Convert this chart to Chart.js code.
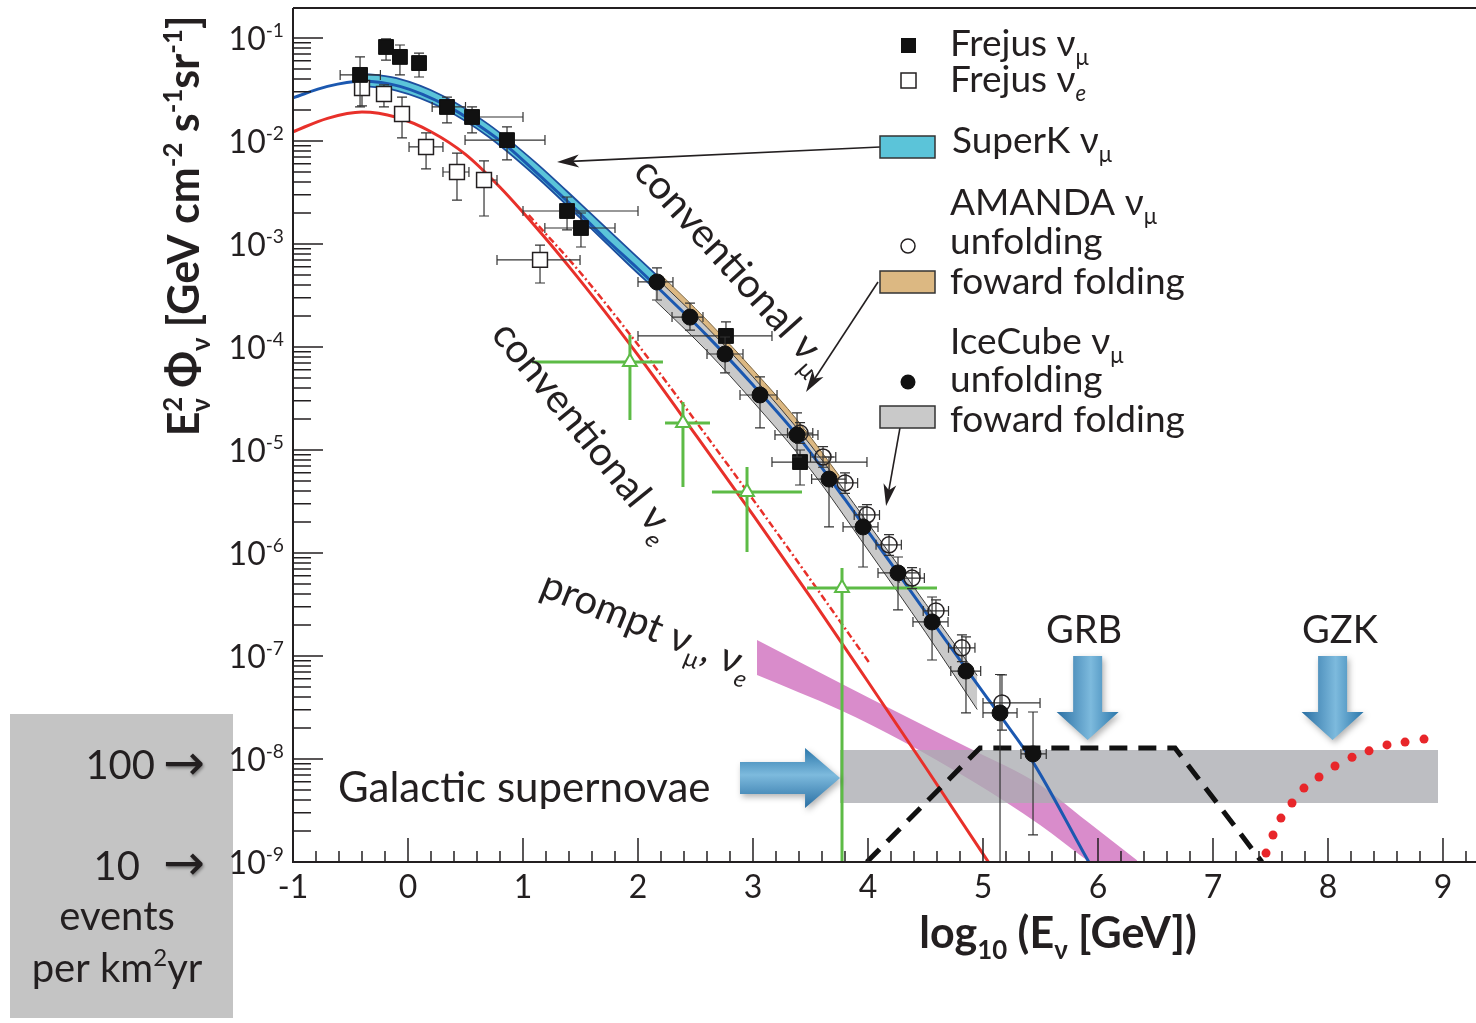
<!DOCTYPE html>
<html>
<head>
<meta charset="utf-8">
<script src="https://cdn.jsdelivr.net/npm/chart.js@4.4.1/dist/chart.umd.min.js"></script>
<style>
  html, body { margin: 0; padding: 0; background: #fff; }
  #wrap { width: 1476px; height: 1023px; }
</style>
</head>
<body>
<div id="wrap"><canvas id="flux" width="1476" height="1023"></canvas></div>
<script>
// axis ticks
const xTicks = [-1, 0, 1, 2, 3, 4, 5, 6, 7, 8, 9];
const yTickExps = [-9, -8, -7, -6, -5, -4, -3, -2, -1];
const minorSteps = [2, 3, 4, 5, 6, 7, 8, 9];

// conventional nu_mu (blue curve), x = log10(E/GeV)
const convMuE = [-1.0, -0.7, -0.4, -0.07, 0.34, 0.6, 0.86, 1.1, 1.4, 1.7, 2.0, 2.3, 2.6, 3.0, 3.4, 3.8, 4.2, 4.6, 5.0, 5.15, 5.44, 5.92, 6.05];
const convMuFlux = [2.63e-2, 3.39e-2, 3.80e-2, 3.39e-2, 2.19e-2, 1.45e-2, 8.91e-3, 5.13e-3, 2.51e-3, 1.17e-3, 5.75e-4, 2.75e-4, 1.29e-4, 4.27e-5, 1.32e-5, 3.31e-6, 7.94e-7, 1.86e-7, 4.47e-8, 2.63e-8, 9.12e-9, 1.0e-9, 5.62e-10];

// conventional nu_e (red curve)
const convEE = [-1.0, -0.7, -0.4, -0.1, 0.2, 0.5, 0.8, 1.1, 1.4, 1.7, 2.0, 2.5, 3.0, 3.5, 4.0, 4.5, 5.0, 5.2];
const convEFlux = [1.23e-2, 1.66e-2, 1.91e-2, 1.70e-2, 1.23e-2, 7.41e-3, 3.55e-3, 1.51e-3, 6.03e-4, 2.29e-4, 8.32e-5, 1.41e-5, 2.34e-6, 3.72e-7, 5.62e-8, 8.32e-9, 1.20e-9, 5.50e-10];

// second nu_e model (red dash-dot)
const convEAltE = [1.05, 1.5, 2.0, 2.5, 3.0, 3.5, 4.02];
const convEAltFlux = [1.91e-3, 5.25e-4, 1.05e-4, 1.91e-5, 3.31e-6, 5.50e-7, 8.32e-8];

// SuperK nu_mu band
const superKE = [-0.45, -0.1, 0.3, 0.7, 1.1, 1.5, 1.9, 2.3, 2.7, 3.0];
const superKLo = [3.47e-2, 3.09e-2, 2.09e-2, 1.10e-2, 4.68e-3, 1.78e-3, 6.61e-4, 2.51e-4, 8.91e-5, 3.89e-5];
const superKHi = [4.57e-2, 4.07e-2, 2.75e-2, 1.45e-2, 6.31e-3, 2.45e-3, 9.33e-4, 3.55e-4, 1.29e-4, 5.62e-5];

// AMANDA forward folding band
const amandaFfE = [2.2, 2.6, 3.0, 3.4, 3.75];
const amandaFfLo = [3.55e-4, 1.29e-4, 4.27e-5, 1.32e-5, 3.98e-6];
const amandaFfHi = [5.01e-4, 1.82e-4, 6.03e-5, 1.86e-5, 5.62e-6];

// IceCube forward folding band
const iceFfE = [2.15, 2.6, 3.0, 3.5, 4.0, 4.5, 4.95];
const iceFfLo = [2.82e-4, 9.12e-5, 2.95e-5, 6.46e-6, 1.07e-6, 1.70e-7, 3.02e-8];
const iceFfHi = [4.79e-4, 1.55e-4, 5.13e-5, 1.12e-5, 1.95e-6, 3.24e-7, 6.46e-8];

// prompt nu_mu, nu_e band
const promptE = [3.035, 3.757, 4.3, 4.913, 5.496, 5.904, 6.339];
const promptLo = [6.55e-8, 2.99e-8, 1.49e-8, 6.05e-9, 2.29e-9, 1.04e-9, 4.57e-10];
const promptHi = [1.43e-7, 5.47e-8, 2.69e-8, 1.22e-8, 5.60e-9, 2.48e-9, 1.04e-9];

// galactic supernovae band
const galE = [3.757, 8.957];
const galLo = [3.74e-9, 3.74e-9];
const galHi = [1.22e-8, 1.22e-8];

// GRB (dashed) and GZK (dotted)
const grbE = [3.99, 4.974, 6.67, 7.426];
const grbFlux = [1.0e-9, 1.28e-8, 1.28e-8, 1.0e-9];
const gzkE = [7.461, 7.522, 7.591, 7.687, 7.791, 7.922, 8.061, 8.209, 8.357, 8.513, 8.670, 8.835];
const gzkFlux = [1.22e-9, 1.83e-9, 2.67e-9, 3.74e-9, 5.22e-9, 6.68e-9, 8.55e-9, 1.04e-8, 1.20e-8, 1.37e-8, 1.46e-8, 1.56e-8];

// Frejus nu_mu (filled squares)
const frejusMuE = [-0.417, -0.191, -0.070, 0.096, 0.339, 0.557, 0.861, 1.383, 1.504, 2.765, 3.409];
const frejusMuFlux = [4.38e-2, 8.18e-2, 6.55e-2, 5.71e-2, 2.14e-2, 1.71e-2, 1.02e-2, 2.09e-3, 1.43e-3, 1.28e-4, 7.64e-6];
const frejusMuELo = [-0.59, -0.191, -0.070, 0.096, 0.21, 0.50, 0.496, 1.0, 1.19, 2.0, 3.165];
const frejusMuEHi = [-0.24, -0.191, -0.070, 0.096, 0.50, 1.0, 1.191, 2.0, 1.80, 3.165, 3.991];
const frejusMuFluxLo = [2.14e-2, 6.11e-2, 4.38e-2, 4.18e-2, 1.50e-2, 1.20e-2, 6.55e-3, 1.37e-3, 9.35e-4, 9.35e-5, 4.57e-6];
const frejusMuFluxHi = [6.55e-2, 9.8e-2, 8.55e-2, 7.14e-2, 2.67e-2, 2.14e-2, 1.37e-2, 2.86e-3, 2.00e-3, 1.75e-4, 1.0e-5];

// Frejus nu_e (open squares)
const frejusEE = [-0.40, -0.209, -0.052, 0.157, 0.426, 0.661, 1.148];
const frejusEFlux = [3.27e-2, 2.86e-2, 1.83e-2, 8.75e-3, 5.0e-3, 4.18e-3, 7.0e-4];
const frejusEELo = [-0.40, -0.209, -0.052, 0.009, 0.304, 0.6, 0.774];
const frejusEEHi = [-0.40, -0.209, -0.052, 0.304, 0.530, 0.774, 1.496];
const frejusEFluxLo = [2.19e-2, 2.14e-2, 1.07e-2, 5.35e-3, 2.67e-3, 1.87e-3, 4.18e-4];
const frejusEFluxHi = [3.91e-2, 3.50e-2, 2.67e-2, 1.20e-2, 7.64e-3, 6.40e-3, 9.77e-4];

// IceCube unfolding (filled circles)
const iceE = [2.165, 2.452, 2.757, 3.061, 3.383, 3.661, 3.957, 4.261, 4.557, 4.852, 5.148, 5.435];
const iceFlux = [4.28e-4, 1.95e-4, 8.55e-5, 3.42e-5, 1.40e-5, 5.22e-6, 1.79e-6, 6.40e-7, 2.14e-7, 7.14e-8, 2.80e-8, 1.12e-8];
const iceELo = [2.0, 2.296, 2.6, 2.887, 3.191, 3.51, 3.783, 4.087, 4.391, 4.72, 5.0, 5.33];
const iceEHi = [2.304, 2.565, 2.913, 3.209, 3.565, 3.81, 4.087, 4.452, 4.696, 4.98, 5.296, 5.55];
const iceFluxLo = [2.86e-4, 1.46e-4, 5.60e-5, 1.64e-5, 8.55e-6, 1.79e-6, 7.31e-7, 2.80e-7, 9.14e-8, 2.80e-8, 5.0e-10, 1.83e-9];
const iceFluxHi = [5.85e-4, 2.67e-4, 1.25e-4, 5.12e-5, 2.29e-5, 8.55e-6, 2.80e-6, 9.14e-7, 3.74e-7, 1.53e-7, 6.61e-8, 2.86e-8];

// AMANDA unfolding (open circles)
const amandaE = [3.409, 3.609, 3.8, 3.991, 4.183, 4.383, 4.591, 4.817, 5.165];
const amandaFlux = [1.46e-5, 8.55e-6, 4.79e-6, 2.34e-6, 1.20e-6, 5.71e-7, 2.74e-7, 1.20e-7, 3.50e-8];
const amandaELo = [3.30, 3.50, 3.69, 3.88, 4.07, 4.27, 4.48, 4.70, 5.0];
const amandaEHi = [3.52, 3.72, 3.91, 4.10, 4.29, 4.49, 4.70, 4.93, 5.496];
const amandaFluxLo = [1.16e-5, 6.8e-6, 3.8e-6, 1.86e-6, 9.5e-7, 4.5e-7, 2.1e-7, 8.8e-8, 1.91e-8];
const amandaFluxHi = [1.84e-5, 1.08e-5, 6.0e-6, 2.95e-6, 1.51e-6, 7.2e-7, 3.5e-7, 1.6e-7, 6.55e-8];

// green crosses (open triangles)
const greenE = [1.930, 2.391, 2.948, 3.774];
const greenFlux = [7.14e-5, 1.83e-5, 3.91e-6, 4.57e-7];
const greenELo = [1.078, 2.235, 2.643, 3.470];
const greenEHi = [2.217, 2.626, 3.426, 4.600];
const greenFluxLo = [1.95e-5, 4.38e-6, 1.02e-6, 5.0e-10];
const greenFluxHi = [1.31e-4, 2.92e-5, 6.84e-6, 7.14e-7];

const FONT = "Lato, 'Open Sans', 'DejaVu Sans', sans-serif";
const ink = "#231f20";

const pts = (xs, ys) => xs.map((x, i) => ({ x, y: ys[i] }));

function font(size, bold, italic) {
  return `${italic ? "italic " : ""}${bold ? "bold " : ""}${size}px ${FONT}`;
}

// parts: [text, kind, stay] kind: "" | "sup" | "sub" | "isub"
function rich(ctx, parts, x, y, size, opts = {}) {
  const runs = [];
  let w = 0;
  for (const [t, kind = "", stay = false] of parts) {
    const s = kind ? size * 0.6 : size;
    const f = font(s, opts.bold, kind === "isub");
    ctx.font = f;
    const rw = ctx.measureText(t).width;
    let dy = 0;
    if (kind === "sup") dy = -size * 0.4;
    if (kind === "sub" || kind === "isub") dy = size * 0.25;
    runs.push({ t, f, dx: w, dy });
    if (!stay) w += rw;
  }
  let x0 = x;
  if (opts.align === "center") x0 -= w / 2;
  if (opts.align === "right") x0 -= w;
  ctx.textAlign = "left";
  ctx.textBaseline = "alphabetic";
  ctx.fillStyle = opts.color || ink;
  for (const r of runs) {
    ctx.font = r.f;
    ctx.fillText(r.t, x0 + r.dx, y + r.dy);
  }
  return w;
}

function blockArrow(ctx, x0, y0, x1, y1, shaft, head, headLen) {
  const ang = Math.atan2(y1 - y0, x1 - x0);
  const len = Math.hypot(x1 - x0, y1 - y0);
  ctx.save();
  ctx.translate(x0, y0);
  ctx.rotate(ang);
  const g = ctx.createLinearGradient(0, -head / 2, 0, head / 2);
  g.addColorStop(0, "#2b77ab");
  g.addColorStop(0.45, "#7dbadd");
  g.addColorStop(1, "#2a6fa3");
  ctx.shadowColor = "rgba(0,0,0,0.3)";
  ctx.shadowBlur = 6;
  ctx.shadowOffsetX = 2;
  ctx.shadowOffsetY = 3;
  ctx.beginPath();
  ctx.moveTo(0, -shaft / 2);
  ctx.lineTo(len - headLen, -shaft / 2);
  ctx.lineTo(len - headLen, -head / 2);
  ctx.lineTo(len, 0);
  ctx.lineTo(len - headLen, head / 2);
  ctx.lineTo(len - headLen, shaft / 2);
  ctx.lineTo(0, shaft / 2);
  ctx.closePath();
  ctx.fillStyle = g;
  ctx.fill();
  ctx.restore();
}

function pointer(ctx, x0, y0, x1, y1) {
  const ang = Math.atan2(y1 - y0, x1 - x0);
  ctx.save();
  ctx.strokeStyle = ink;
  ctx.fillStyle = ink;
  ctx.lineWidth = 1.6;
  ctx.beginPath();
  ctx.moveTo(x0, y0);
  ctx.lineTo(x1 - 14 * Math.cos(ang), y1 - 14 * Math.sin(ang));
  ctx.stroke();
  ctx.translate(x1, y1);
  ctx.rotate(ang);
  ctx.beginPath();
  ctx.moveTo(0, 0);
  ctx.lineTo(-22, -6.5);
  ctx.lineTo(-16, 0);
  ctx.lineTo(-22, 6.5);
  ctx.closePath();
  ctx.fill();
  ctx.restore();
}

// error bars drawn just before each dataset's markers
const errorBars = {
  id: "errorBars",
  beforeDatasetDraw(chart, args) {
    const ds = chart.data.datasets[args.index];
    if (!ds.err) return;
    const { ctx, chartArea: a } = chart;
    const sx = chart.scales.x, sy = chart.scales.y;
    const e = ds.err;
    ctx.save();
    ctx.beginPath();
    ctx.rect(a.left, a.top, a.right - a.left, a.bottom - a.top);
    ctx.clip();
    ctx.strokeStyle = e.color;
    ctx.lineWidth = e.width;
    ds.data.forEach((p, i) => {
      const cx = sx.getPixelForValue(p.x), cy = sy.getPixelForValue(p.y);
      const xl = sx.getPixelForValue(e.xLo[i]), xh = sx.getPixelForValue(e.xHi[i]);
      const yl = sy.getPixelForValue(e.yLo[i]), yh = sy.getPixelForValue(e.yHi[i]);
      ctx.beginPath();
      ctx.moveTo(xl, cy); ctx.lineTo(xh, cy);
      ctx.moveTo(cx, yl); ctx.lineTo(cx, yh);
      if (e.cap) {
        if (xh - xl > 2) {
          ctx.moveTo(xl, cy - e.cap); ctx.lineTo(xl, cy + e.cap);
          ctx.moveTo(xh, cy - e.cap); ctx.lineTo(xh, cy + e.cap);
        }
        ctx.moveTo(cx - e.cap, yl); ctx.lineTo(cx + e.cap, yl);
        ctx.moveTo(cx - e.cap, yh); ctx.lineTo(cx + e.cap, yh);
      }
      ctx.stroke();
    });
    ctx.restore();
  }
};

const annot = {
  id: "annot",
  beforeDraw(chart) {
    const { ctx } = chart;
    ctx.save();
    ctx.fillStyle = "#fff";
    ctx.fillRect(0, 0, chart.width, chart.height);
    ctx.fillStyle = "#c4c4c4";
    ctx.fillRect(10, 714, 223, 304);
    ctx.restore();
  },
  afterDatasetsDraw(chart) {
    const { ctx, chartArea: a } = chart;
    const sx = chart.scales.x, sy = chart.scales.y;
    const X = (v) => sx.getPixelForValue(v);
    const Y = (f) => sy.getPixelForValue(f);
    ctx.save();

    // source markers
    blockArrow(ctx, X(5.91), Y(1e-7), X(5.91), Y(1.53e-8), 29, 62, 28);
    blockArrow(ctx, X(8.04), Y(1e-7), X(8.04), Y(1.53e-8), 29, 62, 28);
    blockArrow(ctx, X(2.887), Y(6.55e-9), X(3.757), Y(6.55e-9), 32, 60, 35);

    // legend pointers
    pointer(ctx, X(4.104), Y(8.75e-3), X(1.296), Y(6.25e-3));
    pointer(ctx, X(4.087), Y(4.28e-4), X(3.461), Y(3.66e-5));
    pointer(ctx, X(4.278), Y(1.64e-5), X(4.157), Y(2.86e-6));

    // curve labels
    const tilted = (parts, v, f, deg, size) => {
      ctx.save();
      ctx.translate(X(v), Y(f));
      ctx.rotate(deg * Math.PI / 180);
      rich(ctx, parts, 0, 0, size);
      ctx.restore();
    };
    tilted([["conventional ν"], ["μ", "sub"]], 1.948, 4.9e-3, 48, 40);
    tilted([["conventional ν"], ["e", "isub"]], 0.713, 1.31e-4, 51, 40);
    tilted([["prompt ν"], ["μ", "sub"], [", ν"], ["e", "isub"]], 1.13, 3.91e-7, 22, 40);
    rich(ctx, [["Galactic supernovae"]], X(-0.609), Y(3.83e-9), 42);
    rich(ctx, [["GRB"]], X(5.878), Y(1.34e-7), 38, { align: "center" });
    rich(ctx, [["GZK"]], X(8.104), Y(1.34e-7), 38, { align: "center" });

    // legend
    ctx.fillStyle = "#111";
    ctx.fillRect(901, 38, 15, 15);
    ctx.strokeStyle = ink;
    ctx.lineWidth = 1.5;
    ctx.fillStyle = "#fff";
    ctx.fillRect(901, 73, 15, 15);
    ctx.strokeRect(901, 73, 15, 15);
    const box = (y, fill) => {
      ctx.fillStyle = fill;
      ctx.fillRect(880, y, 55, 22);
      ctx.strokeStyle = "#333";
      ctx.lineWidth = 1.5;
      ctx.strokeRect(880, y, 55, 22);
    };
    box(136, "#5bc4d9");
    box(271, "#dcb882");
    box(406, "#c9c9c9");
    ctx.beginPath();
    ctx.arc(908, 246, 7, 0, Math.PI * 2);
    ctx.fillStyle = "#fff";
    ctx.fill();
    ctx.strokeStyle = ink;
    ctx.stroke();
    ctx.beginPath();
    ctx.arc(908, 382, 7.5, 0, Math.PI * 2);
    ctx.fillStyle = "#111";
    ctx.fill();
    const LS = 37;
    rich(ctx, [["Frejus ν"], ["μ", "sub"]], 950, 56, LS);
    rich(ctx, [["Frejus ν"], ["e", "isub"]], 950, 92, LS);
    rich(ctx, [["SuperK ν"], ["μ", "sub"]], 952, 153, LS);
    rich(ctx, [["AMANDA ν"], ["μ", "sub"]], 950, 215, LS);
    rich(ctx, [["unfolding"]], 950, 254, LS);
    rich(ctx, [["foward folding"]], 950, 294, LS);
    rich(ctx, [["IceCube ν"], ["μ", "sub"]], 950, 354, LS);
    rich(ctx, [["unfolding"]], 950, 392, LS);
    rich(ctx, [["foward folding"]], 950, 432, LS);

    // frame and ticks
    ctx.strokeStyle = ink;
    ctx.lineWidth = 2;
    ctx.beginPath();
    ctx.moveTo(a.left, a.top); ctx.lineTo(a.right, a.top);
    ctx.moveTo(a.left, a.top); ctx.lineTo(a.left, a.bottom); ctx.lineTo(a.right, a.bottom);
    ctx.stroke();
    ctx.lineWidth = 1.5;
    ctx.beginPath();
    for (const e of yTickExps) {
      const base = Math.pow(10, e);
      const p = Y(base);
      ctx.moveTo(a.left, p); ctx.lineTo(a.left + 30, p);
      for (const m of minorSteps) {
        const v = base * m;
        if (v > sy.max) break;
        const q = Y(v);
        ctx.moveTo(a.left, q); ctx.lineTo(a.left + 18, q);
      }
    }
    for (const t of xTicks) {
      const p = X(t);
      ctx.moveTo(p, a.bottom); ctx.lineTo(p, a.bottom - 24);
      for (let k = 1; k < 5; k++) {
        const v = t + k * 0.2;
        if (v > sx.max) break;
        const q = X(v);
        ctx.moveTo(q, a.bottom); ctx.lineTo(q, a.bottom - 11);
      }
    }
    ctx.stroke();
    for (const e of yTickExps) {
      rich(ctx, [["10"], [String(e), "sup"]], a.left - 9, Y(Math.pow(10, e)) + 12, 32, { align: "right" });
    }
    for (const t of xTicks) {
      rich(ctx, [[String(t)]], X(t), a.bottom + 36, 32, { align: "center" });
    }

    // axis titles
    ctx.save();
    ctx.translate(199, 226);
    ctx.rotate(-Math.PI / 2);
    rich(ctx, [["E"], ["2", "sup", true], ["ν", "sub"], [" Φ"], ["ν", "sub"], [" [GeV cm"], ["-2", "sup"], [" s"], ["-1", "sup"], ["sr"], ["-1", "sup"], ["]"]], 0, 0, 43, { bold: true, align: "center" });
    ctx.restore();
    rich(ctx, [["log"], ["10", "sub"], [" (E"], ["ν", "sub"], [" [GeV])"]], 1058, 948, 43, { bold: true, align: "center" });

    // event-rate box
    rich(ctx, [["100"]], 155, 779, 40, { align: "right" });
    rich(ctx, [["10"]], 140, 880, 40, { align: "right" });
    ctx.font = "50px 'DejaVu Sans', sans-serif";
    ctx.fillStyle = ink;
    ctx.shadowColor = "rgba(0,0,0,0.35)";
    ctx.shadowBlur = 3;
    ctx.shadowOffsetX = 1;
    ctx.shadowOffsetY = 2;
    ctx.fillText("→", 163, 780);
    ctx.fillText("→", 163, 880);
    ctx.shadowColor = "rgba(0,0,0,0)";
    rich(ctx, [["events"]], 117, 930, 40, { align: "center" });
    rich(ctx, [["per km"], ["2", "sup"], ["yr"]], 117, 982, 40, { align: "center" });

    ctx.restore();
  }
};

const line = (label, xs, ys, color, width, order, extra = {}) => Object.assign({
  label, data: pts(xs, ys), borderColor: color, borderWidth: width, pointRadius: 0,
  fill: false, cubicInterpolationMode: "monotone", order
}, extra);

const marks = (label, xs, ys, style, order, extra = {}) => Object.assign({
  label, data: pts(xs, ys), showLine: false, pointStyle: style, order
}, extra);

const datasets = [
  line("prompt lo", promptE, promptLo, "rgba(0,0,0,0)", 0, 100),
  line("prompt νμ, νe", promptE, promptHi, "rgba(0,0,0,0)", 0, 100, { fill: "-1", backgroundColor: "#d98ccb" }),
  line("galactic lo", galE, galLo, "rgba(0,0,0,0)", 0, 95),
  line("Galactic supernovae", galE, galHi, "rgba(0,0,0,0)", 0, 95, { fill: "-1", backgroundColor: "rgba(170,172,177,0.78)" }),
  line("SuperK lo", superKE, superKLo, "#1d4e9e", 1.8, 90),
  line("SuperK νμ", superKE, superKHi, "#1d4e9e", 1.8, 90, { fill: "-1", backgroundColor: "#5bc4d9" }),
  line("AMANDA ff lo", amandaFfE, amandaFfLo, "#7a6440", 1, 89),
  line("AMANDA νμ foward folding", amandaFfE, amandaFfHi, "#7a6440", 1, 89, { fill: "-1", backgroundColor: "#dcb882" }),
  line("IceCube ff lo", iceFfE, iceFfLo, "#3a3a3a", 1, 88),
  line("IceCube νμ foward folding", iceFfE, iceFfHi, "#3a3a3a", 1, 88, { fill: "-1", backgroundColor: "#c9c9c9" }),
  line("conventional νe", convEE, convEFlux, "#e8302a", 3, 80),
  line("conventional νe (alt)", convEAltE, convEAltFlux, "#e8302a", 2.5, 79, { borderDash: [7, 3, 2, 3] }),
  line("conventional νμ", convMuE, convMuFlux, "#1b58b0", 3, 78),
  line("GRB", grbE, grbFlux, "#111", 5, 70, { borderDash: [18, 11], cubicInterpolationMode: "default", tension: 0 }),
  marks("GZK", gzkE, gzkFlux, "circle", 69, { pointRadius: 4.5, backgroundColor: "#e8262a", borderWidth: 0 }),
  marks("νe measurement", greenE, greenFlux, "triangle", 60, {
    pointRadius: 8, backgroundColor: "#fff", borderColor: "#5dbb46", borderWidth: 2,
    err: { xLo: greenELo, xHi: greenEHi, yLo: greenFluxLo, yHi: greenFluxHi, color: "#5dbb46", width: 3, cap: 0 }
  }),
  marks("Frejus νe", frejusEE, frejusEFlux, "rect", 50, {
    pointRadius: 10.5, backgroundColor: "#fff", borderColor: ink, borderWidth: 1.5,
    err: { xLo: frejusEELo, xHi: frejusEEHi, yLo: frejusEFluxLo, yHi: frejusEFluxHi, color: "#333", width: 1.2, cap: 5 }
  }),
  marks("Frejus νμ", frejusMuE, frejusMuFlux, "rect", 49, {
    pointRadius: 10.5, backgroundColor: "#111", borderColor: "#111", borderWidth: 1,
    err: { xLo: frejusMuELo, xHi: frejusMuEHi, yLo: frejusMuFluxLo, yHi: frejusMuFluxHi, color: "#333", width: 1.2, cap: 5 }
  }),
  marks("AMANDA νμ unfolding", amandaE, amandaFlux, "circle", 48, {
    pointRadius: 8, backgroundColor: "rgba(255,255,255,0)", borderColor: ink, borderWidth: 1.5,
    err: { xLo: amandaELo, xHi: amandaEHi, yLo: amandaFluxLo, yHi: amandaFluxHi, color: "#333", width: 1.2, cap: 5 }
  }),
  marks("IceCube νμ unfolding", iceE, iceFlux, "circle", 47, {
    pointRadius: 8, backgroundColor: "#111", borderColor: "#111", borderWidth: 1,
    err: { xLo: iceELo, xHi: iceEHi, yLo: iceFluxLo, yHi: iceFluxHi, color: "#333", width: 1.2, cap: 5 }
  })
];

new Chart(document.getElementById("flux"), {
  type: "line",
  data: { datasets },
  options: {
    responsive: false,
    animation: false,
    devicePixelRatio: 1,
    events: [],
    layout: { autoPadding: false, padding: { left: 293, top: 8, right: 0, bottom: 161 } },
    plugins: { legend: { display: false }, tooltip: { enabled: false } },
    scales: {
      x: { type: "linear", min: -1, max: 9.287, display: false },
      y: { type: "logarithmic", min: 1e-9, max: 0.1955, display: false }
    }
  },
  plugins: [errorBars, annot]
});
</script>
</body>
</html>
